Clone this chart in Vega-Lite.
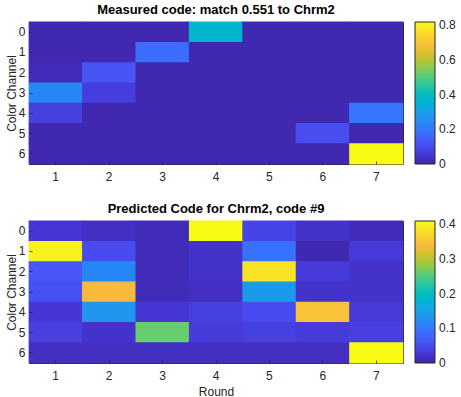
{
  "$schema": "https://vega.github.io/schema/vega-lite/v6.json",
  "background": "white",
  "padding": {"left": 4, "top": 3, "right": 0, "bottom": 0},
  "config": {
    "font": "Liberation Sans",
    "view": {"stroke": "#262626", "strokeWidth": 1},
    "axis": {"labelFont": "Liberation Sans", "labelFontSize": 12, "labelColor": "#262626", "titleFont": "Liberation Sans", "titleFontSize": 12, "titleFontWeight": "normal", "titleColor": "#262626", "domain": false, "ticks": true, "tickSize": -3, "tickColor": "#262626", "tickWidth": 0.8, "grid": false},
    "title": {"font": "Liberation Sans", "fontSize": 13, "fontWeight": "bold", "color": "black", "offset": 5},
    "legend": {"labelFont": "Liberation Sans"}
  },
  "datasets": {
    "measured": [
      {"round": 1, "channel": 0, "value": 0.01}, {"round": 2, "channel": 0, "value": 0.01}, {"round": 3, "channel": 0, "value": 0.01}, {"round": 4, "channel": 0, "value": 0.37}, {"round": 5, "channel": 0, "value": 0.01}, {"round": 6, "channel": 0, "value": 0.01}, {"round": 7, "channel": 0, "value": 0.01},
      {"round": 1, "channel": 1, "value": 0.01}, {"round": 2, "channel": 1, "value": 0.01}, {"round": 3, "channel": 1, "value": 0.175}, {"round": 4, "channel": 1, "value": 0.01}, {"round": 5, "channel": 1, "value": 0.01}, {"round": 6, "channel": 1, "value": 0.01}, {"round": 7, "channel": 1, "value": 0.01},
      {"round": 1, "channel": 2, "value": 0.02}, {"round": 2, "channel": 2, "value": 0.123}, {"round": 3, "channel": 2, "value": 0.01}, {"round": 4, "channel": 2, "value": 0.01}, {"round": 5, "channel": 2, "value": 0.01}, {"round": 6, "channel": 2, "value": 0.01}, {"round": 7, "channel": 2, "value": 0.01},
      {"round": 1, "channel": 3, "value": 0.235}, {"round": 2, "channel": 3, "value": 0.067}, {"round": 3, "channel": 3, "value": 0.01}, {"round": 4, "channel": 3, "value": 0.01}, {"round": 5, "channel": 3, "value": 0.01}, {"round": 6, "channel": 3, "value": 0.01}, {"round": 7, "channel": 3, "value": 0.01},
      {"round": 1, "channel": 4, "value": 0.072}, {"round": 2, "channel": 4, "value": 0.01}, {"round": 3, "channel": 4, "value": 0.01}, {"round": 4, "channel": 4, "value": 0.01}, {"round": 5, "channel": 4, "value": 0.01}, {"round": 6, "channel": 4, "value": 0.01}, {"round": 7, "channel": 4, "value": 0.195},
      {"round": 1, "channel": 5, "value": 0.01}, {"round": 2, "channel": 5, "value": 0.01}, {"round": 3, "channel": 5, "value": 0.01}, {"round": 4, "channel": 5, "value": 0.01}, {"round": 5, "channel": 5, "value": 0.01}, {"round": 6, "channel": 5, "value": 0.103}, {"round": 7, "channel": 5, "value": 0.01},
      {"round": 1, "channel": 6, "value": 0.01}, {"round": 2, "channel": 6, "value": 0.01}, {"round": 3, "channel": 6, "value": 0.01}, {"round": 4, "channel": 6, "value": 0.01}, {"round": 5, "channel": 6, "value": 0.01}, {"round": 6, "channel": 6, "value": 0.01}, {"round": 7, "channel": 6, "value": 0.82}
    ],
    "predicted": [
      {"round": 1, "channel": 0, "value": 0.025}, {"round": 2, "channel": 0, "value": 0.015}, {"round": 3, "channel": 0, "value": 0.01}, {"round": 4, "channel": 0, "value": 0.41}, {"round": 5, "channel": 0, "value": 0.041}, {"round": 6, "channel": 0, "value": 0.02}, {"round": 7, "channel": 0, "value": 0.01},
      {"round": 1, "channel": 1, "value": 0.40}, {"round": 2, "channel": 1, "value": 0.051}, {"round": 3, "channel": 1, "value": 0.01}, {"round": 4, "channel": 1, "value": 0.02}, {"round": 5, "channel": 1, "value": 0.092}, {"round": 6, "channel": 1, "value": 0.005}, {"round": 7, "channel": 1, "value": 0.03},
      {"round": 1, "channel": 2, "value": 0.062}, {"round": 2, "channel": 2, "value": 0.118}, {"round": 3, "channel": 2, "value": 0.01}, {"round": 4, "channel": 2, "value": 0.02}, {"round": 5, "channel": 2, "value": 0.385}, {"round": 6, "channel": 2, "value": 0.03}, {"round": 7, "channel": 2, "value": 0.02},
      {"round": 1, "channel": 3, "value": 0.056}, {"round": 2, "channel": 3, "value": 0.338}, {"round": 3, "channel": 3, "value": 0.01}, {"round": 4, "channel": 3, "value": 0.015}, {"round": 5, "channel": 3, "value": 0.143}, {"round": 6, "channel": 3, "value": 0.02}, {"round": 7, "channel": 3, "value": 0.02},
      {"round": 1, "channel": 4, "value": 0.025}, {"round": 2, "channel": 4, "value": 0.136}, {"round": 3, "channel": 4, "value": 0.025}, {"round": 4, "channel": 4, "value": 0.036}, {"round": 5, "channel": 4, "value": 0.051}, {"round": 6, "channel": 4, "value": 0.349}, {"round": 7, "channel": 4, "value": 0.03},
      {"round": 1, "channel": 5, "value": 0.036}, {"round": 2, "channel": 5, "value": 0.02}, {"round": 3, "channel": 5, "value": 0.261}, {"round": 4, "channel": 5, "value": 0.03}, {"round": 5, "channel": 5, "value": 0.036}, {"round": 6, "channel": 5, "value": 0.03}, {"round": 7, "channel": 5, "value": 0.036},
      {"round": 1, "channel": 6, "value": 0.015}, {"round": 2, "channel": 6, "value": 0.015}, {"round": 3, "channel": 6, "value": 0.015}, {"round": 4, "channel": 6, "value": 0.015}, {"round": 5, "channel": 6, "value": 0.015}, {"round": 6, "channel": 6, "value": 0.015}, {"round": 7, "channel": 6, "value": 0.41}
    ]
  },
  "bounds": "flush",
  "spacing": 57,
  "resolve": {"scale": {"color": "independent"}},
  "vconcat": [
    {
      "title": "Measured code: match 0.551 to Chrm2",
      "width": 374,
      "height": 142,
      "data": {"name": "measured"},
      "mark": {"type": "rect", "width": 54.2, "height": 21.1},
      "encoding": {
        "x": {"field": "round", "type": "ordinal", "scale": {"paddingInner": 0, "paddingOuter": 0}, "axis": {"title": null, "labelAngle": 0, "labelPadding": 10}},
        "y": {"field": "channel", "type": "ordinal", "scale": {"paddingInner": 0, "paddingOuter": 0}, "axis": {"title": "Color Channel", "labelPadding": 7, "titlePadding": 0}},
        "color": {
          "field": "value", "type": "quantitative",
          "scale": {"domain": [0, 0.05206, 0.10413, 0.15619, 0.20825, 0.26032, 0.31238, 0.36444, 0.41651, 0.46857, 0.52063, 0.5727, 0.62476, 0.67683, 0.72889, 0.78095, 0.82], "range": ["#3e26a8", "#4537d5", "#484df0", "#4563fd", "#327cfc", "#2b91ef", "#20a5e3", "#08b5d0", "#19bfb6", "#37c897", "#64cd6f", "#9dc943", "#d1bf27", "#f8ba3d", "#fccf30", "#f5e924", "#f9fb15"]},
          "legend": {"title": null, "type": "gradient", "direction": "vertical", "orient": "right", "offset": 12, "padding": 0, "gradientLength": 142, "gradientThickness": 20, "values": [0, 0.2, 0.4, 0.6, 0.8], "format": "~g", "labelBaseline": "middle", "labelFontSize": 12, "labelColor": "#262626", "labelOffset": 4, "gradientStrokeColor": "#262626", "gradientStrokeWidth": 1, "encode": {"labels": {"update": {"baseline": {"value": "middle"}}}}}
        }
      }
    },
    {
      "title": "Predicted Code for Chrm2, code #9",
      "width": 374,
      "height": 142,
      "data": {"name": "predicted"},
      "mark": {"type": "rect", "width": 54.2, "height": 21.1},
      "encoding": {
        "x": {"field": "round", "type": "ordinal", "scale": {"paddingInner": 0, "paddingOuter": 0}, "axis": {"title": "Round", "labelAngle": 0, "labelPadding": 10, "titlePadding": 5}},
        "y": {"field": "channel", "type": "ordinal", "scale": {"paddingInner": 0, "paddingOuter": 0}, "axis": {"title": "Color Channel", "labelPadding": 7, "titlePadding": 0}},
        "color": {
          "field": "value", "type": "quantitative",
          "scale": {"domain": [0, 0.02603, 0.05206, 0.0781, 0.10413, 0.13016, 0.15619, 0.18222, 0.20825, 0.23429, 0.26032, 0.28635, 0.31238, 0.33841, 0.36444, 0.39048, 0.41], "range": ["#3e26a8", "#4537d5", "#484df0", "#4563fd", "#327cfc", "#2b91ef", "#20a5e3", "#08b5d0", "#19bfb6", "#37c897", "#64cd6f", "#9dc943", "#d1bf27", "#f8ba3d", "#fccf30", "#f5e924", "#f9fb15"]},
          "legend": {"title": null, "type": "gradient", "direction": "vertical", "orient": "right", "offset": 12, "padding": 0, "gradientLength": 142, "gradientThickness": 20, "values": [0, 0.1, 0.2, 0.3, 0.4], "format": "~g", "labelBaseline": "middle", "labelFontSize": 12, "labelColor": "#262626", "labelOffset": 4, "gradientStrokeColor": "#262626", "gradientStrokeWidth": 1, "encode": {"labels": {"update": {"baseline": {"value": "middle"}}}}}
        }
      }
    }
  ]
}
